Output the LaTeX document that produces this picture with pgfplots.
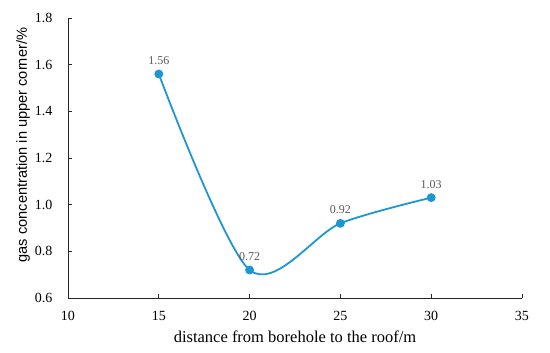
\documentclass[border=0pt]{standalone}
\usepackage{pgfplots}
\pgfplotsset{compat=1.18}
\usepackage{fontspec}
\setmainfont{Liberation Serif}
\setsansfont{Liberation Sans}
\definecolor{lineblue}{RGB}{30,150,212}
\definecolor{labgray}{RGB}{89,89,89}
\begin{document}
\begin{tikzpicture}
\path[use as bounding box] (-68pt,-55pt) rectangle (482pt,298pt);
\begin{axis}[
  scale only axis,
  width=454pt, height=280pt,
  xmin=10, xmax=35, ymin=0.6, ymax=1.8,
  xtick={10,15,20,25,30,35},
  ytick={0.6,0.8,1.0,1.2,1.4,1.6,1.8},
  axis lines=left,
  axis line style={-, black!85, line width=0.9pt},
  tick align=inside,
  major tick length=4pt,
  tick style={black!85, line width=0.9pt},
  /pgf/number format/assume math mode=true,
  yticklabel style={/pgf/number format/fixed, /pgf/number format/fixed zerofill, /pgf/number format/precision=1, font=\fontsize{14}{16}\selectfont, anchor=east, xshift=-12pt},
  xticklabel style={font=\fontsize{14}{16}\selectfont, anchor=center, yshift=-17.5pt},
  xlabel={distance from borehole to the roof/m},
  ylabel={gas concentration in upper corner/\%},
  xlabel style={font=\fontsize{16.5}{18}\selectfont, at={(axis description cs:0.5,-0.139)}, anchor=center},
  ylabel style={font=\sffamily\fontsize{14.6}{16}\selectfont, at={(axis description cs:-0.099,0.546)}, anchor=center},
  clip=false,
]
\addplot[color=lineblue, line width=1.8pt, smooth, tension=0.5, mark=*, mark size=3.5pt, mark options={fill=lineblue, draw=lineblue},
  nodes near coords, point meta=explicit symbolic,
  every node near coord/.append style={font=\fontsize{12}{13}\selectfont, text=labgray, anchor=center, yshift=13.5pt}]
coordinates {(15,1.56) [1.56] (20,0.72) [0.72] (25,0.92) [0.92] (30,1.03) [1.03]};
\end{axis}
\end{tikzpicture}
\end{document}
